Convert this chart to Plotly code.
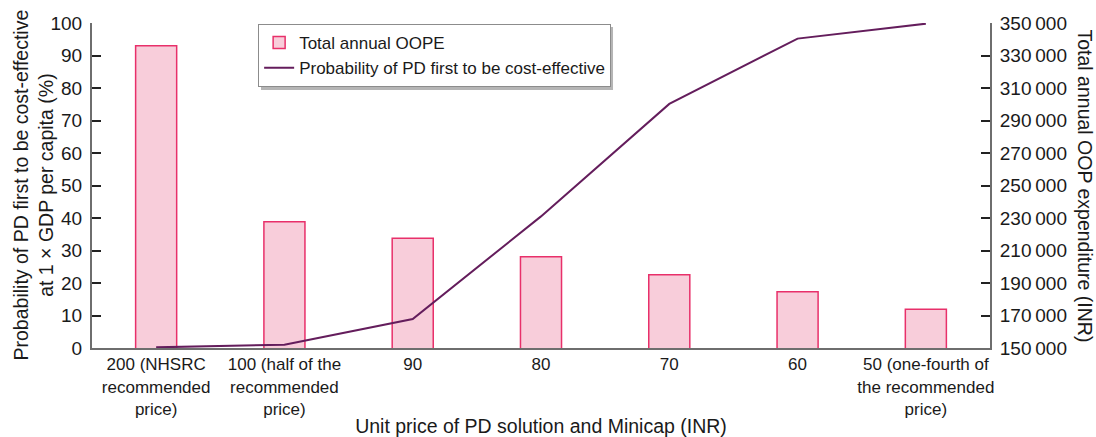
import plotly.graph_objects as go

categories = [
    "200 (NHSRC<br>recommended<br>price)",
    "100 (half of the<br>recommended<br>price)",
    "90",
    "80",
    "70",
    "60",
    "50 (one-fourth of<br>the recommended<br>price)",
]
oope = [336000, 227700, 217500, 206200, 195100, 184600, 173800]
probability = [0.2, 1.0, 8.9, 40.5, 75.1, 95.2, 99.8]

left_ticks = list(range(0, 101, 10))
right_ticks = list(range(150000, 350001, 20000))
right_ticktext = [f"{v // 1000}\u2009{v % 1000:03d}" for v in right_ticks]

FONT = "Liberation Sans, Arial, sans-serif"
AXIS_GREY = "#6e6e6e"

fig = go.Figure()
# Bars on the right-hand axis (yaxis), line on the left-hand axis (yaxis2, overlaid so it draws on top)
fig.add_trace(go.Bar(
    x=categories, y=oope, name="Total annual OOPE", yaxis="y",
    width=0.32,
    marker=dict(color="#F8CDDA", line=dict(color="#E8306A", width=1.5)),
))
fig.add_trace(go.Scatter(
    x=categories, y=probability, name="Probability of PD first to be cost-effective",
    mode="lines", line=dict(color="#641D5C", width=2), yaxis="y2",
))

fig.update_layout(
    width=1096, height=437,
    margin=dict(l=92, r=106, t=23, b=89, autoexpand=False),
    paper_bgcolor="white", plot_bgcolor="white",
    font=dict(family=FONT, size=17, color="#1a1a1a"),
    showlegend=True,
    legend=dict(
        x=0.185, y=0.997, xanchor="left", yanchor="top",
        bgcolor="white", bordercolor="#8c8c8c", borderwidth=1,
        font=dict(family=FONT, size=17, color="#1a1a1a"),
        traceorder="normal", tracegroupgap=0,
    ),
    xaxis=dict(
        type="category", range=[-0.5, 6.5], showline=True, linecolor=AXIS_GREY,
        linewidth=2, ticks="", showgrid=False, zeroline=False, automargin=False,
        tickfont=dict(size=17),
        title=dict(text="Unit price of PD solution and Minicap (INR)", font=dict(size=19.5), standoff=6),
    ),
    yaxis=dict(
        range=[150000, 350000], tickvals=right_ticks, ticktext=right_ticktext,
        side="right", showline=True, linecolor=AXIS_GREY, automargin=False,
        linewidth=2, ticks="inside", ticklen=9, tickcolor="#222", tickwidth=1.5,
        showgrid=False, zeroline=False, tickfont=dict(size=19), ticklabelstandoff=4,
    ),
    yaxis2=dict(
        range=[0, 100], tickvals=left_ticks, overlaying="y", side="left",
        showline=True, linecolor=AXIS_GREY,
        linewidth=2, ticks="inside", ticklen=9, tickcolor="#222", tickwidth=1.5, automargin=False,
        showgrid=False, zeroline=False, tickfont=dict(size=19), ticklabelstandoff=4,
    ),
    shapes=[
        dict(type="rect", xref="paper", yref="paper", x0=0.1882, x1=0.5802, y0=0.7938, y1=0.9877,
             fillcolor="#b5b5b5", line=dict(width=0), layer="above"),
    ],
    annotations=[
        dict(text="Probability of PD first to be cost-effective<br>at 1 × GDP per capita (%)",
             xref="paper", yref="paper", x=0, y=0.5, xshift=-59, xanchor="center", yanchor="middle",
             textangle=-90, showarrow=False, font=dict(size=19.5)),
        dict(text="Total annual OOP expenditure (INR)",
             xref="paper", yref="paper", x=1, y=0.5, xshift=95, xanchor="center", yanchor="middle",
             textangle=90, showarrow=False, font=dict(size=19.5)),
    ],
)

fig.write_html(
    "out.html",
    config={"displayModeBar": False},
    post_script="document.body.style.margin='0';document.body.style.padding='0';",
)
